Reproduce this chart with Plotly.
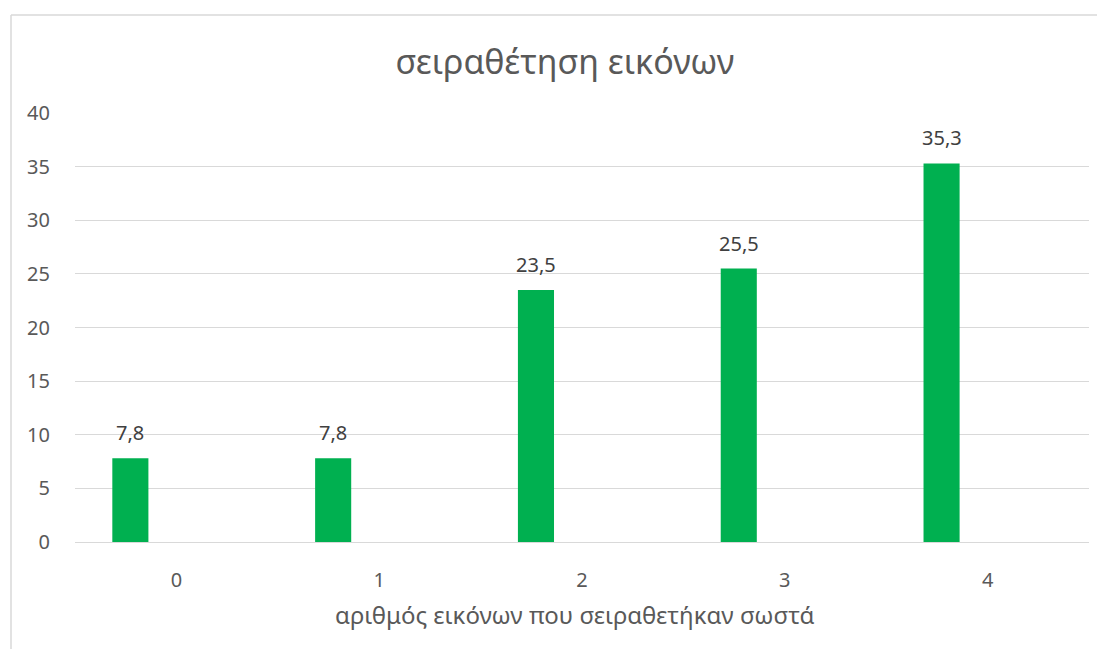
import plotly.graph_objects as go

# data
categories = ["0", "1", "2", "3", "4"]
values = [7.8, 7.8, 23.5, 25.5, 35.3]
y_ticks = [0, 5, 10, 15, 20, 25, 30, 35, 40]

title_text = "σειραθέτηση εικόνων"
x_title = "αριθμός εικόνων που σειραθετήκαν σωστά"

FONT = "Noto Sans"
GREEN = "#00B050"
GREY_TXT = "#595959"
GRID = "#D9D9D9"

# page body has an 8px margin, so the figure is a bit smaller than the window
W, H = 1097, 641
L, R, T, B = 67, 16, 105, 107
PW, PH = W - L - R, H - T - B

fig = go.Figure()
fig.add_trace(go.Bar(
    x=categories, y=values,
    width=0.178, offset=-0.316,
    marker=dict(color=GREEN, line=dict(width=0)),
    showlegend=False,
))

# data labels above the bars (bars sit left of the category centre)
labels = []
for c, v in zip(categories, values):
    labels.append(dict(
        x=c, y=v, xref="x", yref="y", text=f"{v:.1f}".replace(".", ","),
        showarrow=False, xanchor="center", yanchor="bottom",
        xshift=-46, yshift=10,
        font=dict(family=FONT, size=20, color="#404040"),
    ))

labels.append(dict(
    x=(566.5 - L) / PW, y=-72 / PH, xref="paper", yref="paper",
    text=x_title, showarrow=False, xanchor="center", yanchor="middle",
    font=dict(family=FONT, size=24, color=GREY_TXT),
))

fig.update_layout(
    width=W, height=H,
    margin=dict(l=L, r=R, t=T, b=B),
    paper_bgcolor="white", plot_bgcolor="white",
    font=dict(family=FONT, color=GREY_TXT),
    title=dict(text=title_text, x=557 / W, xanchor="center", xref="container",
               y=1 - 54 / H, yanchor="middle", yref="container",
               font=dict(family=FONT, size=34, color=GREY_TXT)),
    xaxis=dict(
        type="category", showgrid=False, showline=True, linecolor=GRID, linewidth=1,
        ticks="outside", ticklen=20, tickcolor="rgba(0,0,0,0)",
        tickfont=dict(family=FONT, size=20, color=GREY_TXT),
    ),
    yaxis=dict(
        range=[0, 40], tickvals=y_ticks, showgrid=True, gridcolor=GRID, gridwidth=1,
        zeroline=True, zerolinecolor=GRID, zerolinewidth=1, showline=False,
        ticks="outside", ticklen=20, tickcolor="rgba(0,0,0,0)",
        tickfont=dict(family=FONT, size=20, color=GREY_TXT),
    ),
    annotations=labels,
    shapes=[
        dict(type="line", xref="paper", yref="paper", x0=(3 - L) / PW, x1=1.2,
             y0=(PH + T - 7) / PH, y1=(PH + T - 7) / PH, line=dict(color=GRID, width=1.5)),
        dict(type="line", xref="paper", yref="paper", x0=(3 - L) / PW, x1=(3 - L) / PW,
             y0=-0.5, y1=(PH + T - 7) / PH, line=dict(color=GRID, width=1.5)),
    ],
)

fig.write_html("out.html")
